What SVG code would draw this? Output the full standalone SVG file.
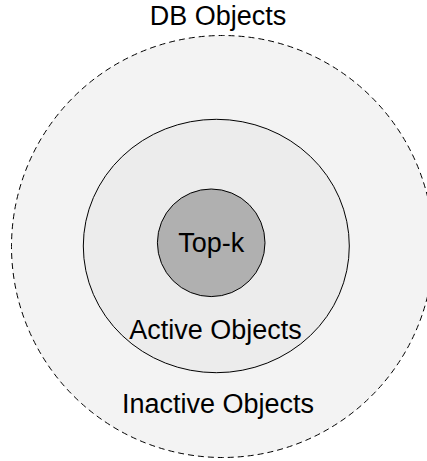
<svg xmlns="http://www.w3.org/2000/svg" width="427" height="461" viewBox="0 0 427 461">
<style>
text{font-family:"Liberation Sans",Arial,sans-serif;font-size:27px;fill:#000;text-anchor:middle}
.ring{stroke:#000;stroke-width:1}
</style>
<rect width="427" height="461" fill="#fff"/>
<g id="db-objects">
<circle class="ring" cx="222.5" cy="246.5" r="211" fill="#f3f3f3" stroke-dasharray="6 4"/>
<text x="218" y="25">DB Objects</text>
<text x="218" y="413">Inactive Objects</text>
</g>
<g id="active-objects">
<ellipse class="ring" cx="216.3" cy="246" rx="133" ry="126.7" fill="#ececec"/>
<text x="215.5" y="338.5">Active Objects</text>
</g>
<g id="top-k">
<circle class="ring" cx="211.2" cy="242.8" r="53.8" fill="#b0b0b0"/>
<text x="211.2" y="252">Top-k</text>
</g>
<g id="connectors"/>
</svg>
